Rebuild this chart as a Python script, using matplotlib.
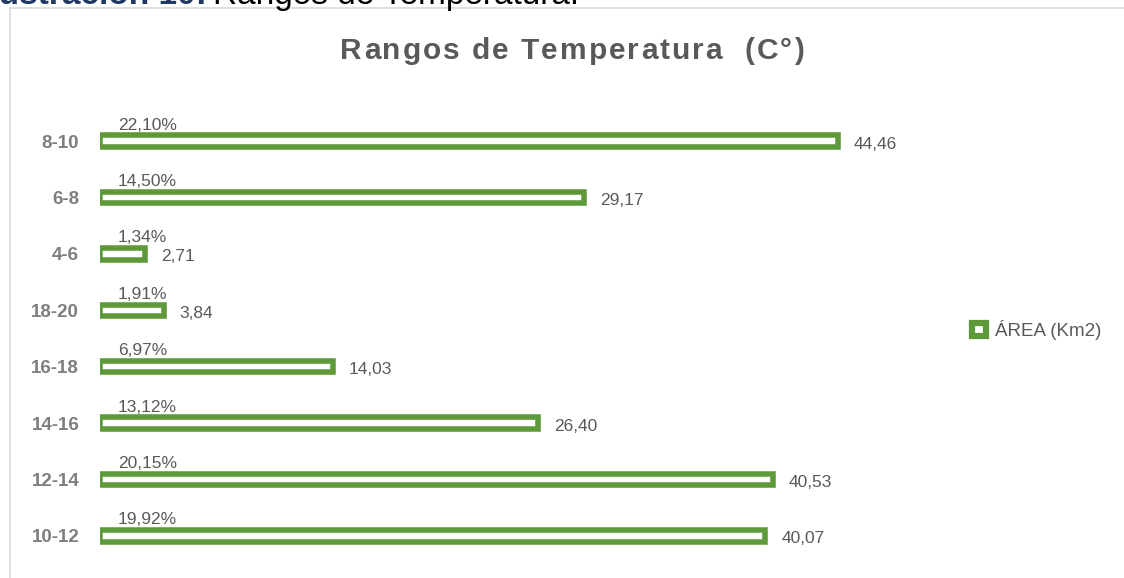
"""Rangos de Temperatura (C°) - horizontal outline bar chart, area per range."""

import matplotlib
matplotlib.use("Agg")
import matplotlib.pyplot as plt
from matplotlib.font_manager import FontProperties
from matplotlib.patches import Rectangle

plt.rcParams["font.family"] = ["Liberation Sans", "DejaVu Sans"]

# data, bottom to top as drawn
categories = ["10-12", "12-14", "14-16", "16-18", "18-20", "4-6", "6-8", "8-10"]
area_km2 = [40.07, 40.53, 26.40, 14.03, 3.84, 2.71, 29.17, 44.46]
area_pct = [19.92, 20.15, 13.12, 6.97, 1.91, 1.34, 14.50, 22.10]

GREEN = "#5f9a3a"
GRAY_TXT = "#595959"
GRAY_CAT = "#7f7f7f"


def fmt(v: float, suffix: str = "") -> str:
    return f"{v:.2f}".replace(".", ",") + suffix


def spaced_title(fig, x_center, y_base, s, tracking, **kw):
    """Excel-style title with extra letter spacing (pixels)."""
    renderer = fig.canvas.get_renderer()
    prop = FontProperties(family=["Liberation Sans", "DejaVu Sans"],
                          size=kw["fontsize"], weight=kw.get("fontweight", "normal"))
    widths = [renderer.get_text_width_height_descent(c, prop, ismath=False)[0] for c in s]
    total = sum(widths) + tracking * (len(s) - 1)
    x = x_center - total / 2
    for c, w in zip(s, widths):
        fig.text(x / W, y_base, c, ha="left", va="baseline", **kw)
        x += w + tracking


W, H = 1124, 578
fig = plt.figure(figsize=(W / 100, H / 100), dpi=100)
fig.patch.set_facecolor("white")

# chart frame (only left and top edges fall inside the image)
fig.patches.append(Rectangle((10 / W, -0.05), 1.2, 1 - 8 / H + 0.05,
                             transform=fig.transFigure, fill=False,
                             edgecolor="#d9d9d9", linewidth=1.2))

# document caption, cut off at the top of the image as in the source
fig.text(207 / W, 1 - 4 / H, "Ilustración 10:", fontsize=24, fontweight="bold",
         color="#1f3864", va="baseline", ha="right")
fig.text(213 / W, 1 - 4 / H, "Rangos de Temperatura.", fontsize=24,
         color="black", va="baseline", ha="left")

ax = fig.add_axes([100 / W, 14 / H, 830 / W, 451 / H])
y = list(range(len(categories)))
bars = ax.barh(y, area_km2, height=0.205, color="white", edgecolor=GREEN,
               linewidth=4.0)
ax.set_xlim(0, 50)
ax.set_ylim(-0.5, len(categories) - 0.5)
ax.set_yticks(y)
ax.set_yticklabels(categories, fontsize=13.5, fontweight="bold", color=GRAY_CAT)
ax.tick_params(axis="y", length=0, pad=15)
ax.set_xticks([])
for s in ax.spines.values():
    s.set_visible(False)

for yi, v, p in zip(y, area_km2, area_pct):
    ax.annotate(fmt(v), xy=(v, yi), xytext=(16, -3), textcoords="offset pixels",
                ha="left", va="center", fontsize=12.5, color=GRAY_TXT)
    ax.annotate(fmt(p, "%"), xy=(0, yi + 0.15), xytext=(18, 0),
                textcoords="offset pixels", ha="left", va="bottom",
                fontsize=12.5, color=GRAY_TXT)

fig.canvas.draw()
spaced_title(fig, 572, 1 - 59 / H, "Rangos de Temperatura  (C°)", 2.0,
             fontsize=21.5, fontweight="bold", color=GRAY_TXT)

legend_box = Rectangle((0, 0), 1, 1, facecolor="white", edgecolor=GREEN, linewidth=4.5)
fig.legend(handles=[legend_box], labels=["ÁREA (Km2)"], loc="center left",
           bbox_to_anchor=(955 / W, 1 - 330 / H), frameon=False,
           fontsize=13.5, labelcolor=GRAY_TXT, handlelength=0.75, handleheight=0.75,
           handletextpad=0.5)

fig.savefig("out.png", dpi=100, facecolor="white")
plt.close(fig)
